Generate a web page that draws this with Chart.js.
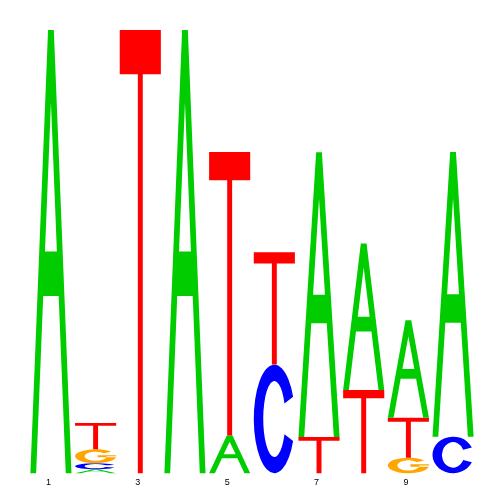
<!DOCTYPE html>
<html><head><meta charset="utf-8">
<script src="https://cdn.jsdelivr.net/npm/chart.js@4/dist/chart.umd.min.js"></script>
<style>html,body{margin:0;padding:0;background:#fff}#wrap{width:500px;height:500px}</style>
</head><body><div id="wrap"><canvas id="c" width="500" height="500"></canvas></div>
<script>
// Sequence logo data (information content in bits, per position and letter)
const positions = ['1','2','3','4','5','6','7','8','9','10'];
const tickLabels = ['1','','3','','5','','7','','9',''];
const A = [2.0, 0.018, 0, 2.0, 0.17, 0, 1.285, 0.66, 0.44, 1.285];
const C = [0, 0.027, 0, 0, 0, 0.49, 0, 0, 0, 0.165];
const G = [0, 0.063, 0, 0, 0, 0, 0, 0, 0.07, 0];
const T = [0, 0.118, 2.0, 0, 1.28, 0.507, 0.163, 0.376, 0.18, 0];
const letterNames = ['A','C','G','T'];
const letterColors = {A:'#00CC00', C:'#0000FF', G:'#FFA500', T:'#FF0000'};

const byLetter = {A, C, G, T};
// For each position sort letters ascending by height (smallest at bottom)
const sorted = positions.map((p, i) =>
  letterNames.map(l => ({l, h: byLetter[l][i]})).filter(o => o.h > 0).sort((a, b) => a.h - b.h));
const ranks = Math.max(...sorted.map(s => s.length));
const datasets = [];
for (let r = 0; r < ranks; r++) {
  datasets.push({
    data: sorted.map(s => s[r] ? s[r].h : 0),
    letters: sorted.map(s => s[r] ? s[r].l : null),
    backgroundColor: 'rgba(0,0,0,0)',
    borderWidth: 0,
    stack: 'logo'
  });
}

function glyphPath(ctx, letter) {
  ctx.beginPath();
  if (letter === 'A') {
    ctx.moveTo(0, 0); ctx.lineTo(0.43, 1); ctx.lineTo(0.57, 1); ctx.lineTo(1, 0);
    ctx.lineTo(0.86, 0); ctx.lineTo(0.688, 0.40); ctx.lineTo(0.312, 0.40); ctx.lineTo(0.14, 0);
    ctx.closePath();
    ctx.moveTo(0.355, 0.5); ctx.lineTo(0.645, 0.5); ctx.lineTo(0.5, 0.837); ctx.closePath();
  } else if (letter === 'T') {
    ctx.rect(0, 0.9, 1, 0.1);
    ctx.rect(0.44, 0, 0.12, 0.9);
  } else if (letter === 'C') {
    const a = 24 * Math.PI / 180;
    ctx.ellipse(0.5, 0.5, 0.5, 0.5, 0, a, 2 * Math.PI - a, false);
    ctx.ellipse(0.5, 0.5, 0.27, 0.35, 0, 2 * Math.PI - a, a, true);
    ctx.closePath();
  } else if (letter === 'G') {
    const g = 40 * Math.PI / 180;
    ctx.ellipse(0.5, 0.5, 0.5, 0.5, 0, g, 2 * Math.PI, false);
    ctx.ellipse(0.5, 0.5, 0.27, 0.33, 0, 2 * Math.PI, g, true);
    ctx.closePath();
    ctx.rect(0.55, 0.42, 0.45, 0.15);
  }
}

const logoPlugin = {
  id: 'logoGlyphs',
  afterDatasetsDraw(chart) {
    const ctx = chart.ctx;
    chart.data.datasets.forEach((ds, di) => {
      const meta = chart.getDatasetMeta(di);
      meta.data.forEach((el, i) => {
        const letter = ds.letters[i];
        if (!letter || !ds.data[i]) return;
        const p = el.getProps(['x', 'y', 'base', 'width'], true);
        const w = p.width, h = Math.abs(p.base - p.y);
        if (h <= 0) return;
        ctx.save();
        ctx.translate(p.x - w / 2, Math.max(p.base, p.y));
        ctx.scale(w, -h);
        ctx.fillStyle = letterColors[letter];
        glyphPath(ctx, letter);
        ctx.fill('evenodd');
        ctx.restore();
      });
    });
  }
};

new Chart(document.getElementById('c'), {
  type: 'bar',
  data: { labels: positions, datasets },
  options: {
    responsive: false,
    animation: false,
    devicePixelRatio: 1,
    barPercentage: 0.92,
    categoryPercentage: 1.0,
    layout: { padding: { left: 28.6, right: 24.6, top: 30, bottom: 8 } },
    plugins: { legend: { display: false }, tooltip: { enabled: false } },
    scales: {
      x: {
        stacked: true,
        grid: { display: false, drawTicks: false },
        border: { display: false },
        ticks: {
          autoSkip: false, maxRotation: 0, padding: 4, labelOffset: -2.5,
          color: '#000', font: { family: 'Liberation Sans, Arial, sans-serif', size: 9 },
          callback: (v, i) => tickLabels[i]
        }
      },
      y: { stacked: true, display: false, min: 0, max: 2 }
    }
  },
  plugins: [logoPlugin]
});
</script>
</body></html>
